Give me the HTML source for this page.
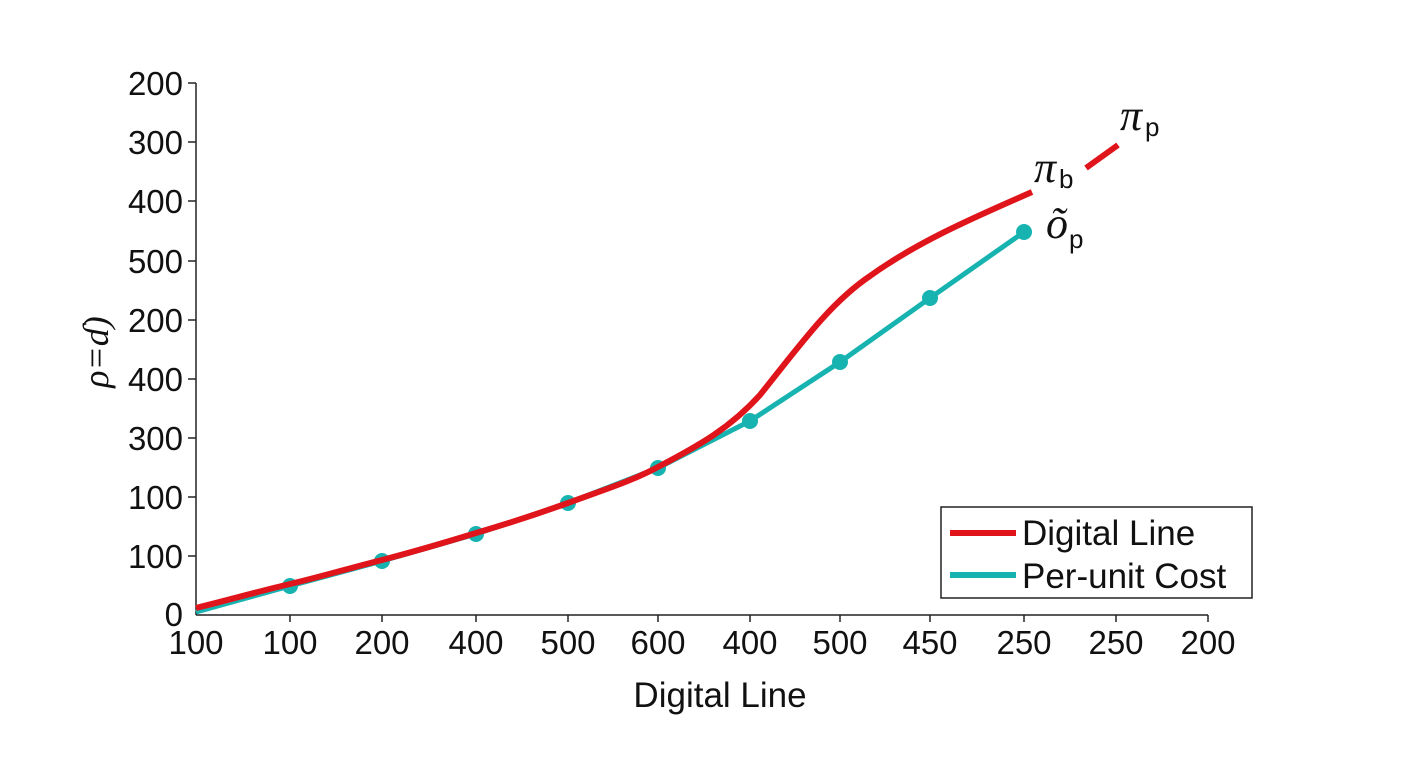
<!DOCTYPE html>
<html><head><style>body{margin:0;background:#fff}svg{display:block}</style></head><body>
<svg width="1408" height="768" xmlns="http://www.w3.org/2000/svg" font-family="Liberation Sans, sans-serif">
<rect width="1408" height="768" fill="#fff"/>
<g stroke="#222" stroke-width="1.5">
<line x1="196" y1="83" x2="196" y2="615"/>
<line x1="196" y1="615" x2="1208" y2="615"/>
<line x1="188" y1="83" x2="196" y2="83"/><line x1="188" y1="142" x2="196" y2="142"/><line x1="188" y1="201" x2="196" y2="201"/><line x1="188" y1="261" x2="196" y2="261"/><line x1="188" y1="320" x2="196" y2="320"/><line x1="188" y1="379" x2="196" y2="379"/><line x1="188" y1="438" x2="196" y2="438"/><line x1="188" y1="497" x2="196" y2="497"/><line x1="188" y1="556" x2="196" y2="556"/>
<line x1="290" y1="615" x2="290" y2="622"/><line x1="382" y1="615" x2="382" y2="622"/><line x1="476" y1="615" x2="476" y2="622"/><line x1="568" y1="615" x2="568" y2="622"/><line x1="658" y1="615" x2="658" y2="622"/><line x1="750" y1="615" x2="750" y2="622"/><line x1="840" y1="615" x2="840" y2="622"/><line x1="930" y1="615" x2="930" y2="622"/><line x1="1024" y1="615" x2="1024" y2="622"/><line x1="1116" y1="615" x2="1116" y2="622"/><line x1="1208" y1="615" x2="1208" y2="622"/>
</g>
<g font-size="33" fill="#111" text-anchor="end">
<text x="183" y="95">200</text><text x="183" y="154">300</text><text x="183" y="213">400</text><text x="183" y="273">500</text><text x="183" y="332">200</text><text x="183" y="391">400</text><text x="183" y="450">300</text><text x="183" y="509">100</text><text x="183" y="568">100</text><text x="183" y="626">0</text>
</g>
<g font-size="33" fill="#111" text-anchor="middle">
<text x="196" y="654">100</text><text x="290" y="654">100</text><text x="382" y="654">200</text><text x="476" y="654">400</text><text x="568" y="654">500</text><text x="658" y="654">600</text><text x="750" y="654">400</text><text x="840" y="654">500</text><text x="930" y="654">450</text><text x="1024" y="654">250</text><text x="1116" y="654">250</text><text x="1208" y="654">200</text>
<text x="720" y="707" font-size="35">Digital Line</text>
</g>
<text transform="translate(108,352) rotate(-90)" font-size="36" font-family="Liberation Serif, serif" font-style="italic" text-anchor="middle" fill="#111">ρ=ɗ)</text>
<path d="M196,612 L290,586 L382,561 L476,534 L568,503 L658,468 L750,421 L840,362 L930,298 L1024,232" fill="none" stroke="#17b3b0" stroke-width="5"/>
<g fill="#17b3b0"><circle cx="290" cy="586" r="8"/><circle cx="382" cy="561" r="8"/><circle cx="476" cy="534" r="8"/><circle cx="568" cy="503" r="8"/><circle cx="658" cy="468" r="8"/><circle cx="750" cy="421" r="8"/><circle cx="840" cy="362" r="8"/><circle cx="930" cy="298" r="8"/><circle cx="1024" cy="232" r="8"/></g>
<path d="M196,608 C240,597 260,591 290,584 C320,577 350,568 382,560 C420,550 450,541 476,533 C510,523 540,513 568,503 C600,491 630,482 658,467 C700,445 730,428 760,395 C800,345 830,303 870,276 C920,240 980,215 1032,192" fill="none" stroke="#e0141b" stroke-width="6"/>
<path d="M1086,168 L1118,145" stroke="#e0141b" stroke-width="6"/>
<g font-family="Liberation Serif, serif" font-style="italic" font-size="44" fill="#111">
<text x="1034" y="182">π</text><text x="1120" y="130">π</text><text x="1046" y="238">õ</text>
</g>
<g font-size="26" fill="#111"><text x="1059" y="188">b</text><text x="1145" y="136">p</text><text x="1069" y="248">p</text></g>
<rect x="941" y="507" width="311" height="91" fill="#fff" stroke="#222" stroke-width="1.5"/>
<line x1="950" y1="533" x2="1016" y2="533" stroke="#e0141b" stroke-width="6"/>
<line x1="950" y1="575" x2="1016" y2="575" stroke="#17b3b0" stroke-width="6"/>
<g font-size="35" fill="#111"><text x="1022" y="545">Digital Line</text><text x="1022" y="588">Per-unit Cost</text></g>
</svg>
</body></html>
